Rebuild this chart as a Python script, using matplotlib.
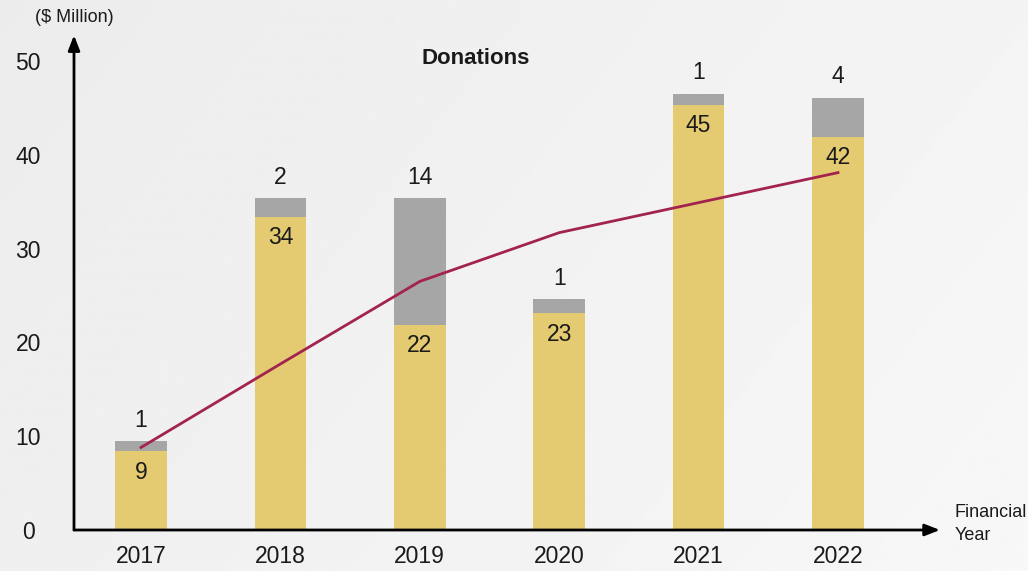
import numpy as np
import matplotlib.pyplot as plt

# data ($ Million)
years = ['2017', '2018', '2019', '2020', '2021', '2022']
main_vals = [8.4, 33.4, 21.9, 23.1, 45.3, 41.9]
other_vals = [1.1, 2.0, 13.5, 1.5, 1.2, 4.2]
main_labels = ['9', '34', '22', '23', '45', '42']
other_labels = ['1', '2', '14', '1', '1', '4']
trend = [8.8, 17.7, 26.5, 31.7, 34.9, 38.1]

plt.rcParams['font.family'] = ['Liberation Sans', 'DejaVu Sans']

W, H = 1028, 571
fig = plt.figure(figsize=(W / 100, H / 100), dpi=100)

# soft grey background gradient
bg = fig.add_axes([0, 0, 1, 1])
gx, gy = np.meshgrid(np.linspace(0, 1, 400), np.linspace(0, 1, 300))
g = 0.925 + 0.045 * (0.7 * gx + 0.3 * gy)
bg.imshow(g, cmap='gray', vmin=0, vmax=1, aspect='auto', extent=[0, 1, 0, 1],
          origin='upper', interpolation='bilinear')
bg.axis('off')

# axes placed in pixel terms: x from 74 to 940, y=0 at 530, y=50 at 61
left, right, bottom, top = 74, 940, 530, 61
ax = fig.add_axes([left / W, (H - bottom) / H, (right - left) / W, (bottom - top) / H])
ax.patch.set_alpha(0)

x = np.arange(len(years))
step = 139.4
ax.set_xlim(-(141 - left) / step, (right - 141) / step)
ax.set_ylim(0, 50)

width = 0.37
yellow = '#e4cb72'
grey = '#a6a6a6'
ax.bar(x, main_vals, width, color=yellow, zorder=2)
ax.bar(x, other_vals, width, bottom=main_vals, color=grey, zorder=2)
ax.plot(x, trend, color='#a3234f', lw=2, zorder=3)

for i in range(len(years)):
    ax.annotate(main_labels[i], (x[i], main_vals[i]), xytext=(0, -15), textcoords='offset points',
                ha='center', va='center', fontsize=16.5, color='#1a1a1a', zorder=4)
    ax.annotate(other_labels[i], (x[i], main_vals[i] + other_vals[i]), xytext=(0, 15),
                textcoords='offset points', ha='center', va='center', fontsize=16.5, color='#1a1a1a')

for s in ax.spines.values():
    s.set_visible(False)

# arrowed axes
ax.annotate('', xy=(1.0, 0), xytext=(0, 0), xycoords='axes fraction',
            arrowprops=dict(arrowstyle='-|>,head_length=0.9,head_width=0.35', color='black', lw=2,
                            shrinkA=0, shrinkB=0), annotation_clip=False)
ax.annotate('', xy=(0, 1.055), xytext=(0, 0), xycoords='axes fraction',
            arrowprops=dict(arrowstyle='-|>,head_length=0.9,head_width=0.35', color='black', lw=2,
                            shrinkA=0, shrinkB=0), annotation_clip=False)

ax.set_xticks(x)
ax.set_xticklabels(years, fontsize=16.5, color='#1a1a1a')
ax.set_yticks([0, 10, 20, 30, 40, 50])
ax.set_yticklabels(['0', '10', '20', '30', '40', '50'], fontsize=16.5, color='#1a1a1a', ha='center')
ax.tick_params(length=0)
ax.tick_params(axis='x', pad=11)
ax.tick_params(axis='y', pad=33)

fig.text(476 / W, 1 - 58 / H, 'Donations', ha='center', va='center', fontsize=16,
         fontweight='bold', color='#1a1a1a')
fig.text(74 / W, 1 - 18 / H, '($ Million)', ha='center', va='center', fontsize=13, color='#1a1a1a')
fig.text(955 / W, 1 - 524 / H, 'Financial\nYear', ha='left', va='center', fontsize=13,
         color='#1a1a1a', linespacing=1.45)

fig.savefig('out.png', dpi=100)
